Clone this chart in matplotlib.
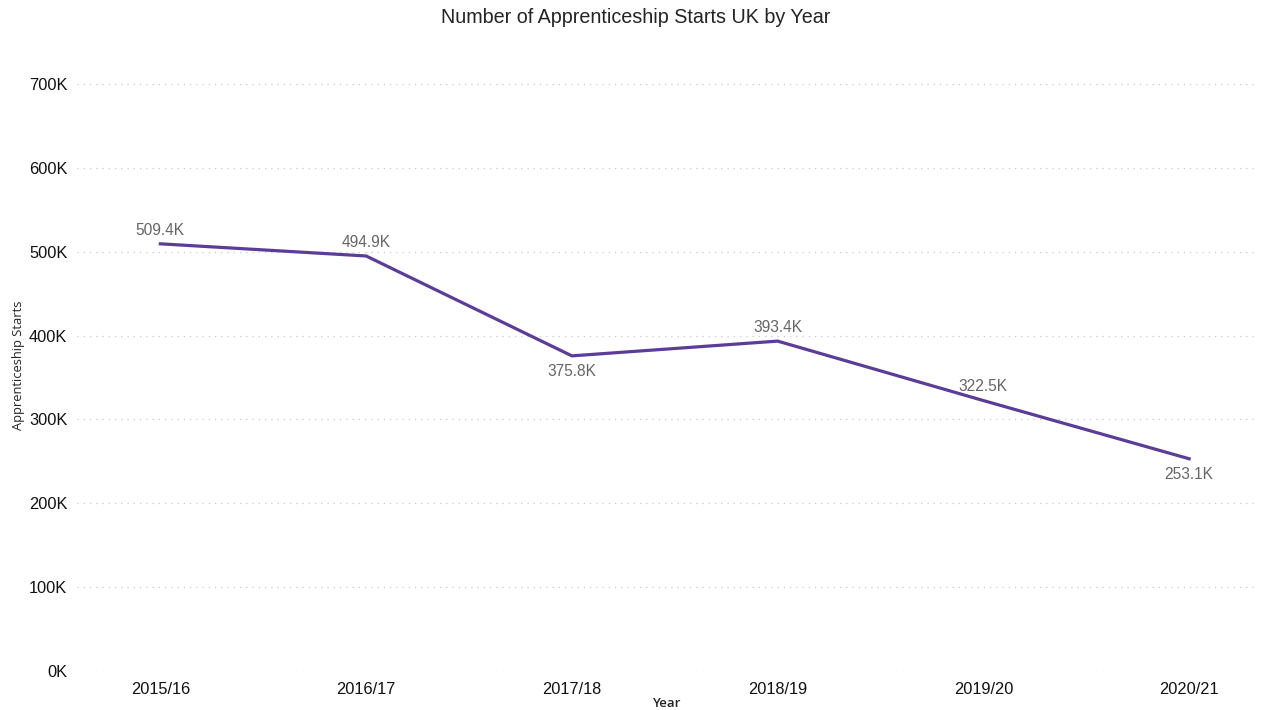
import matplotlib
matplotlib.use("Agg")
import matplotlib.pyplot as plt
from matplotlib.ticker import FuncFormatter

plt.rcParams['font.family'] = ['Liberation Sans', 'DejaVu Sans']

years = ["2015/16", "2016/17", "2017/18", "2018/19", "2019/20", "2020/21"]
starts = [509400, 494900, 375800, 393400, 322500, 253100]
label_above = [True, True, False, True, True, False]
y_ticks = [0, 100000, 200000, 300000, 400000, 500000, 600000, 700000]

fig = plt.figure(figsize=(12.71, 7.10), dpi=100)
ax = fig.add_axes([0.0606, 0.0549, 0.9268, 0.8606])

x = list(range(len(years)))
ax.plot(x, starts, color="#5B3C97", linewidth=2.3, solid_joinstyle="round", zorder=3)

for xi, v, above in zip(x, starts, label_above):
    ax.annotate(f"{v/1000:.1f}K", (xi, v), xytext=(0, 4.5 if above else -6),
                textcoords="offset points", ha="center",
                va="bottom" if above else "top", fontsize=11.2, color="#666666")

ax.set_xlim(-0.405, 5.32)
ax.set_ylim(0, 728600)
ax.set_xticks(x)
ax.set_xticklabels(years)
ax.set_yticks(y_ticks)
ax.yaxis.set_major_formatter(FuncFormatter(lambda v, _: f"{int(v/1000)}K"))
ax.tick_params(axis="both", length=0, labelsize=11.8, colors="#111111")
ax.tick_params(axis="y", pad=7)
ax.tick_params(axis="x", pad=8)
ax.grid(axis="y", color="#C8C8C8", linestyle=(0, (1, 4)), linewidth=0.9)
ax.set_axisbelow(True)
for s in ax.spines.values():
    s.set_visible(False)

ax.set_xlabel("Year", fontsize=9.5, color="#252423", fontweight="semibold",
              family=["Open Sans", "DejaVu Sans"], labelpad=0)
ax.set_ylabel("Apprenticeship Starts", fontsize=9.3, color="#252423",
              family=["Open Sans", "DejaVu Sans"], labelpad=3)
fig.text(0.5, 0.975, "Number of Apprenticeship Starts UK by Year", ha="center", va="center",
         fontsize=14.2, color="#252423")

fig.savefig("out.png", dpi=100, facecolor="white")
